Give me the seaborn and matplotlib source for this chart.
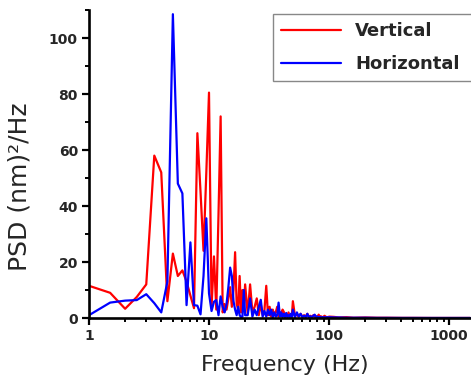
import numpy as np
import pandas as pd
import matplotlib
matplotlib.use('Agg')
import matplotlib.pyplot as plt
import seaborn as sns
from matplotlib.ticker import AutoMinorLocator, LogLocator, NullFormatter, FixedLocator

# Data (frequency in Hz, PSD in (nm)^2/Hz)
freq = [1.0, 1.5, 2.0, 2.5, 3.0, 3.5, 4.0, 4.5, 5.0, 5.5, 6.0, 6.5, 7.0, 7.5,
        8.0, 8.5, 9.0, 9.5, 10.0, 10.5, 11.0, 11.5, 12.0, 12.5, 13.0, 13.5,
        14.0, 14.5, 15.0, 15.5, 16.0, 16.5, 17.0, 17.5, 18.0, 18.5, 19.0, 19.5,
        20.0, 21, 22, 23, 24, 25, 26, 27, 28, 29, 30, 31, 32, 33, 34, 35, 36,
        37, 38, 39, 40, 41, 42, 43, 44, 45, 46, 47, 48, 49, 50, 52, 54, 56, 58,
        60, 62, 64, 66, 68, 70, 72, 74, 76, 78, 80, 82, 84, 86, 88, 90, 92, 94,
        96, 98, 100, 110, 120, 140, 160, 200, 250, 300, 400, 500, 700, 1000,
        1500]

vertical = [11.5, 9, 3.3, 7.5, 12, 58, 52, 6, 23, 15, 17, 13, 8, 3.5,
            66, 45, 24, 52, 80.5, 4, 22, 3, 37, 72, 2, 5,
            3, 7, 11, 4, 10, 23.5, 5, 3, 15, 2, 10, 3,
            12, 1.5, 12, 2, 4, 7, 1, 5, 1, 3, 11.5, 1, 4, 0.5, 3, 1, 2,
            4, 0.5, 2, 1, 3, 2.2, 0.5, 1.5, 0.5, 2, 0.5, 1, 0.5, 6, 0.8, 1.2, 0.5, 1.5,
            0.4, 1, 0.5, 1.5, 0.4, 0.8, 0.3, 1, 0.3, 0.6, 0.3, 1.2, 0.3, 0.6, 0.2, 0.5, 0.8, 0.3,
            0.4, 0.2, 0.5, 0.4, 0.2, 0.3, 0.1, 0.2, 0.1, 0.1, 0.05, 0.05, 0.02, 0.02,
            0.02]

horizontal = [1, 5.5, 6.2, 6.4, 8.5, 5.3, 2, 13, 108.5, 48, 44.5, 4.6, 27, 4.6,
              4.4, 1.3, 15, 35.6, 8.8, 2.5, 5.8, 6.4, 1, 7.7, 4, 2,
              5, 11, 18, 15, 6, 3, 1, 4, 1, 0.3, 0.5, 10,
              1, 1, 7, 0.5, 3, 1, 4, 6.5, 0.5, 2.5, 0.5, 3, 1, 3, 0.3, 2, 0.5,
              1, 5.5, 0.5, 2, 0.3, 1.5, 0.3, 1.8, 0.3, 1, 0.3, 1.5, 0.3, 3, 0.3, 2, 0.5, 1.5,
              0.3, 0.8, 0.3, 1.5, 0.2, 0.6, 0.3, 0.8, 1.2, 0.3, 0.5, 0.3, 0.4, 0.2, 0.3, 0.2, 0.3, 0.2,
              0.3, 0.2, 0.3, 0.2, 0.2, 0.1, 0.1, 0.1, 0.05, 0.05, 0.03, 0.03, 0.02, 0.02,
              0.02]

x_ticks = [1, 10, 100, 1000]
x_tick_labels = ['1', '10', '100', '1000']
y_ticks = [0, 20, 40, 60, 80, 100]

df = pd.DataFrame({'freq': freq, 'Vertical': vertical, 'Horizontal': horizontal})

sns.set_style("ticks")
plt.rcParams['font.family'] = ['DejaVu Sans']

fig = plt.figure(figsize=(4.71, 3.86), dpi=100)
ax = fig.add_axes([89 / 471, 68 / 386, 382 / 471, 308 / 386])

sns.lineplot(data=df, x='freq', y='Vertical', ax=ax, color='#ff0000', lw=1.6,
             label='Vertical', sort=False, estimator=None)
sns.lineplot(data=df, x='freq', y='Horizontal', ax=ax, color='#0000ff', lw=1.6,
             label='Horizontal', sort=False, estimator=None)

ax.set_xscale('log')
ax.set_xlim(1, 1525)
ax.set_ylim(0, 110)

ax.xaxis.set_major_locator(FixedLocator(x_ticks))
ax.set_xticklabels(x_tick_labels)
ax.xaxis.set_minor_locator(LogLocator(base=10, subs=np.arange(2, 10)))
ax.xaxis.set_minor_formatter(NullFormatter())
ax.set_yticks(y_ticks)
ax.yaxis.set_minor_locator(AutoMinorLocator(2))

for lbl in ax.get_xticklabels() + ax.get_yticklabels():
    lbl.set_fontweight('bold')
ax.tick_params(axis='both', which='major', direction='out', length=5, width=1.6,
               labelsize=10, pad=3, color='black')
ax.tick_params(axis='both', which='minor', direction='out', length=3, width=1.4,
               color='black')

sns.despine(ax=ax)
for side in ['left', 'bottom']:
    ax.spines[side].set_linewidth(1.9)
    ax.spines[side].set_color('black')

ax.set_xlabel('Frequency (Hz)', fontsize=16)
ax.set_ylabel('PSD (nm)²/Hz', fontsize=18)
ax.xaxis.set_label_coords(0.513, -0.12)
ax.yaxis.set_label_coords(-0.15, 0.425)

# legend box runs past the right edge of the figure, as in the original
leg = ax.legend(loc='upper left',
                bbox_to_anchor=(273 / 471, 1 - 82 / 386, 0.45, 68 / 386),
                bbox_transform=fig.transFigure, borderaxespad=0, mode='expand',
                prop={'weight': 'bold', 'size': 13},
                handlelength=3.3, handletextpad=0.8, borderpad=0.45,
                labelspacing=0.83, fancybox=False, framealpha=1, edgecolor='#888888')
leg.get_frame().set_linewidth(1.0)
for line in leg.get_lines():
    line.set_linewidth(1.6)

fig.savefig('out.png', dpi=100)
